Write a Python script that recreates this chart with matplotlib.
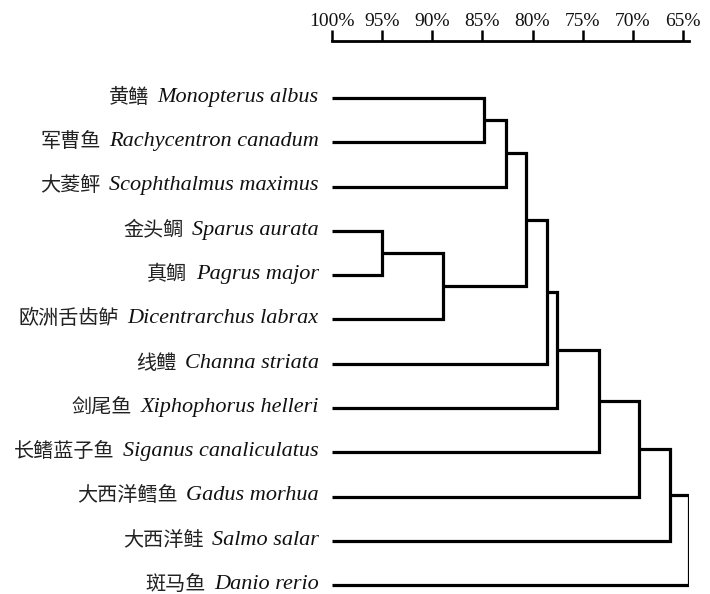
import matplotlib
matplotlib.use("Agg")
import matplotlib.pyplot as plt

# leaves, top to bottom
cn_names = ["黄鳝", "军曹鱼", "大菱鲆", "金头鲷", "真鲷", "欧洲舌齿鲈", "线鳢",
            "剑尾鱼", "长鳍蓝子鱼", "大西洋鳕鱼", "大西洋鲑", "斑马鱼"]
latin_names = ["Monopterus albus", "Rachycentron canadum", "Scophthalmus maximus",
               "Sparus aurata", "Pagrus major", "Dicentrarchus labrax", "Channa striata",
               "Xiphophorus helleri", "Siganus canaliculatus", "Gadus morhua",
               "Salmo salar", "Danio rerio"]

# merges: (child a, child b, similarity %); leaves are 0..11, new nodes 12..
merges = [
    (0, 1, 84.8),
    (12, 2, 82.6),
    (3, 4, 95.0),
    (14, 5, 88.9),
    (13, 15, 80.7),
    (16, 6, 78.6),
    (17, 7, 77.6),
    (18, 8, 73.4),
    (19, 9, 69.4),
    (20, 10, 66.3),
    (21, 11, 64.4),
]

tick_values = [100, 95, 90, 85, 80, 75, 70, 65]
tick_labels = ["100%", "95%", "90%", "85%", "80%", "75%", "70%", "65%"]

W, H = 710, 594
fig = plt.figure(figsize=(W / 100, H / 100), dpi=100)
ax = fig.add_axes([332 / W, 0, (689 - 332) / W, (H - 41) / H])

n = len(latin_names)
pos = {i: (100.0, float(i)) for i in range(n)}
for k, (a, b, h) in enumerate(merges):
    xa, ya = pos[a]
    xb, yb = pos[b]
    ax.plot([xa, h, h, xb], [ya, ya, yb, yb], color="black", lw=2.3,
            solid_joinstyle="miter", solid_capstyle="butt")
    pos[n + k] = (h, (ya + yb) / 2)

ax.set_xlim(100, 64.4)
ax.set_ylim(11.2, -1.29)

for s in ["left", "right", "bottom"]:
    ax.spines[s].set_visible(False)
ax.spines["top"].set_linewidth(2.0)
ax.xaxis.tick_top()
ax.set_xticks(tick_values)
ax.set_xticklabels(tick_labels, fontfamily="Liberation Serif", fontsize=14, color="#111111")
ax.tick_params(axis="x", direction="out", length=8, width=1.8, pad=0)
ax.set_yticks([])

for i in range(n):
    lt = ax.annotate(latin_names[i], xy=(100, i), xytext=(-9.5, 0.5),
                     textcoords="offset points", ha="right", va="center",
                     fontfamily="Liberation Serif", fontstyle="italic",
                     fontsize=16, color="#111111", annotation_clip=False)
    ax.annotate(cn_names[i], xy=(0, 0.5), xycoords=lt, xytext=(-6, 0),
                textcoords="offset points", ha="right", va="center",
                fontfamily="Noto Sans CJK SC", fontsize=14.5, color="#222222",
                annotation_clip=False)

fig.savefig("out.png", dpi=100)
